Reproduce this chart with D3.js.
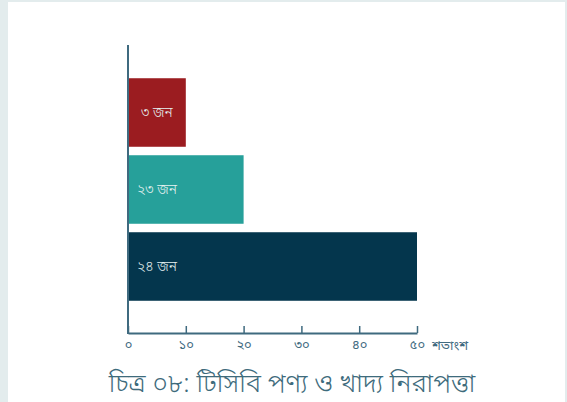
<!DOCTYPE html>
<html><head><meta charset="utf-8">
<script src="https://cdn.jsdelivr.net/npm/d3@7"></script>
<style>
html,body{margin:0;padding:0;background:#e3eced;}
svg{display:block;}
</style></head>
<body>
<script>
const categories = ["a", "b", "c"];
const values = [10, 20, 50];
const barLabels = ["৩ জন", "২৩ জন", "২৪ জন"];
const colors = ["#9b1c20", "#26a09a", "#04364d"];
const tickValues = [0, 10, 20, 30, 40, 50];
const tickLabels = ["০", "১০", "২০", "৩০", "৪০", "৫০"];
const unitLabel = "শতাংশ";
const title = "চিত্র ০৮: টিসিবি পণ্য ও খাদ্য নিরাপত্তা";

const W = 567, H = 402;
const svg = d3.select("body").append("svg").attr("width", W).attr("height", H);
svg.append("rect").attr("x", 0).attr("y", 0).attr("width", W).attr("height", H).attr("fill", "#e3eced");
svg.append("rect").attr("x", 8).attr("y", 2).attr("width", 557).attr("height", H).attr("fill", "#ffffff");

const x = d3.scaleLinear().domain([0, 50]).range([128, 417]);
const y = d3.scaleBand().domain(categories).range([74, 305]).paddingInner(0.11).paddingOuter(0.055);
const axisColor = "#3f6a7f";
const font = "'Noto Sans Bengali','Noto Sans','Lato',sans-serif";

// bars
svg.selectAll("rect.bar").data(values).join("rect").attr("class", "bar")
  .attr("x", x(0)).attr("y", (d, i) => y(categories[i]))
  .attr("width", d => x(d) - x(0)).attr("height", y.bandwidth())
  .attr("fill", (d, i) => colors[i]);

svg.selectAll("text.bl").data(barLabels).join("text").attr("class", "bl")
  .attr("x", x(5)).attr("y", (d, i) => y(categories[i]) + y.bandwidth() / 2)
  .attr("dy", "0.35em").attr("text-anchor", "middle")
  .attr("fill", "#e6f2f1").attr("font-family", font).attr("font-size", 14).attr("font-weight", 300)
  .text(d => d);

// x axis
const gx = svg.append("g").attr("transform", `translate(0,${333})`)
  .call(d3.axisBottom(x).tickValues(tickValues).tickFormat((d, i) => tickLabels[i]).tickSize(-7).tickSizeOuter(0));
gx.select(".domain").attr("stroke", axisColor).attr("stroke-width", 2);
gx.selectAll(".tick line").attr("stroke", axisColor).attr("stroke-width", 1.5);
gx.selectAll(".tick text").attr("fill", axisColor).attr("font-family", font).attr("font-size", 13).attr("y", 7);
svg.append("text").attr("x", 432).attr("y", 350).attr("fill", axisColor)
  .attr("font-family", font).attr("font-size", 13).text(unitLabel);

// y axis line
svg.append("line").attr("x1", x(0)).attr("x2", x(0)).attr("y1", 45).attr("y2", 334)
  .attr("stroke", axisColor).attr("stroke-width", 2);

// title
svg.append("text").attr("x", 292).attr("y", 392).attr("text-anchor", "middle")
  .attr("fill", "#3e6b7c").attr("font-family", font).attr("font-size", 26).attr("font-weight", 300)
  .text(title);
</script>
</body></html>
